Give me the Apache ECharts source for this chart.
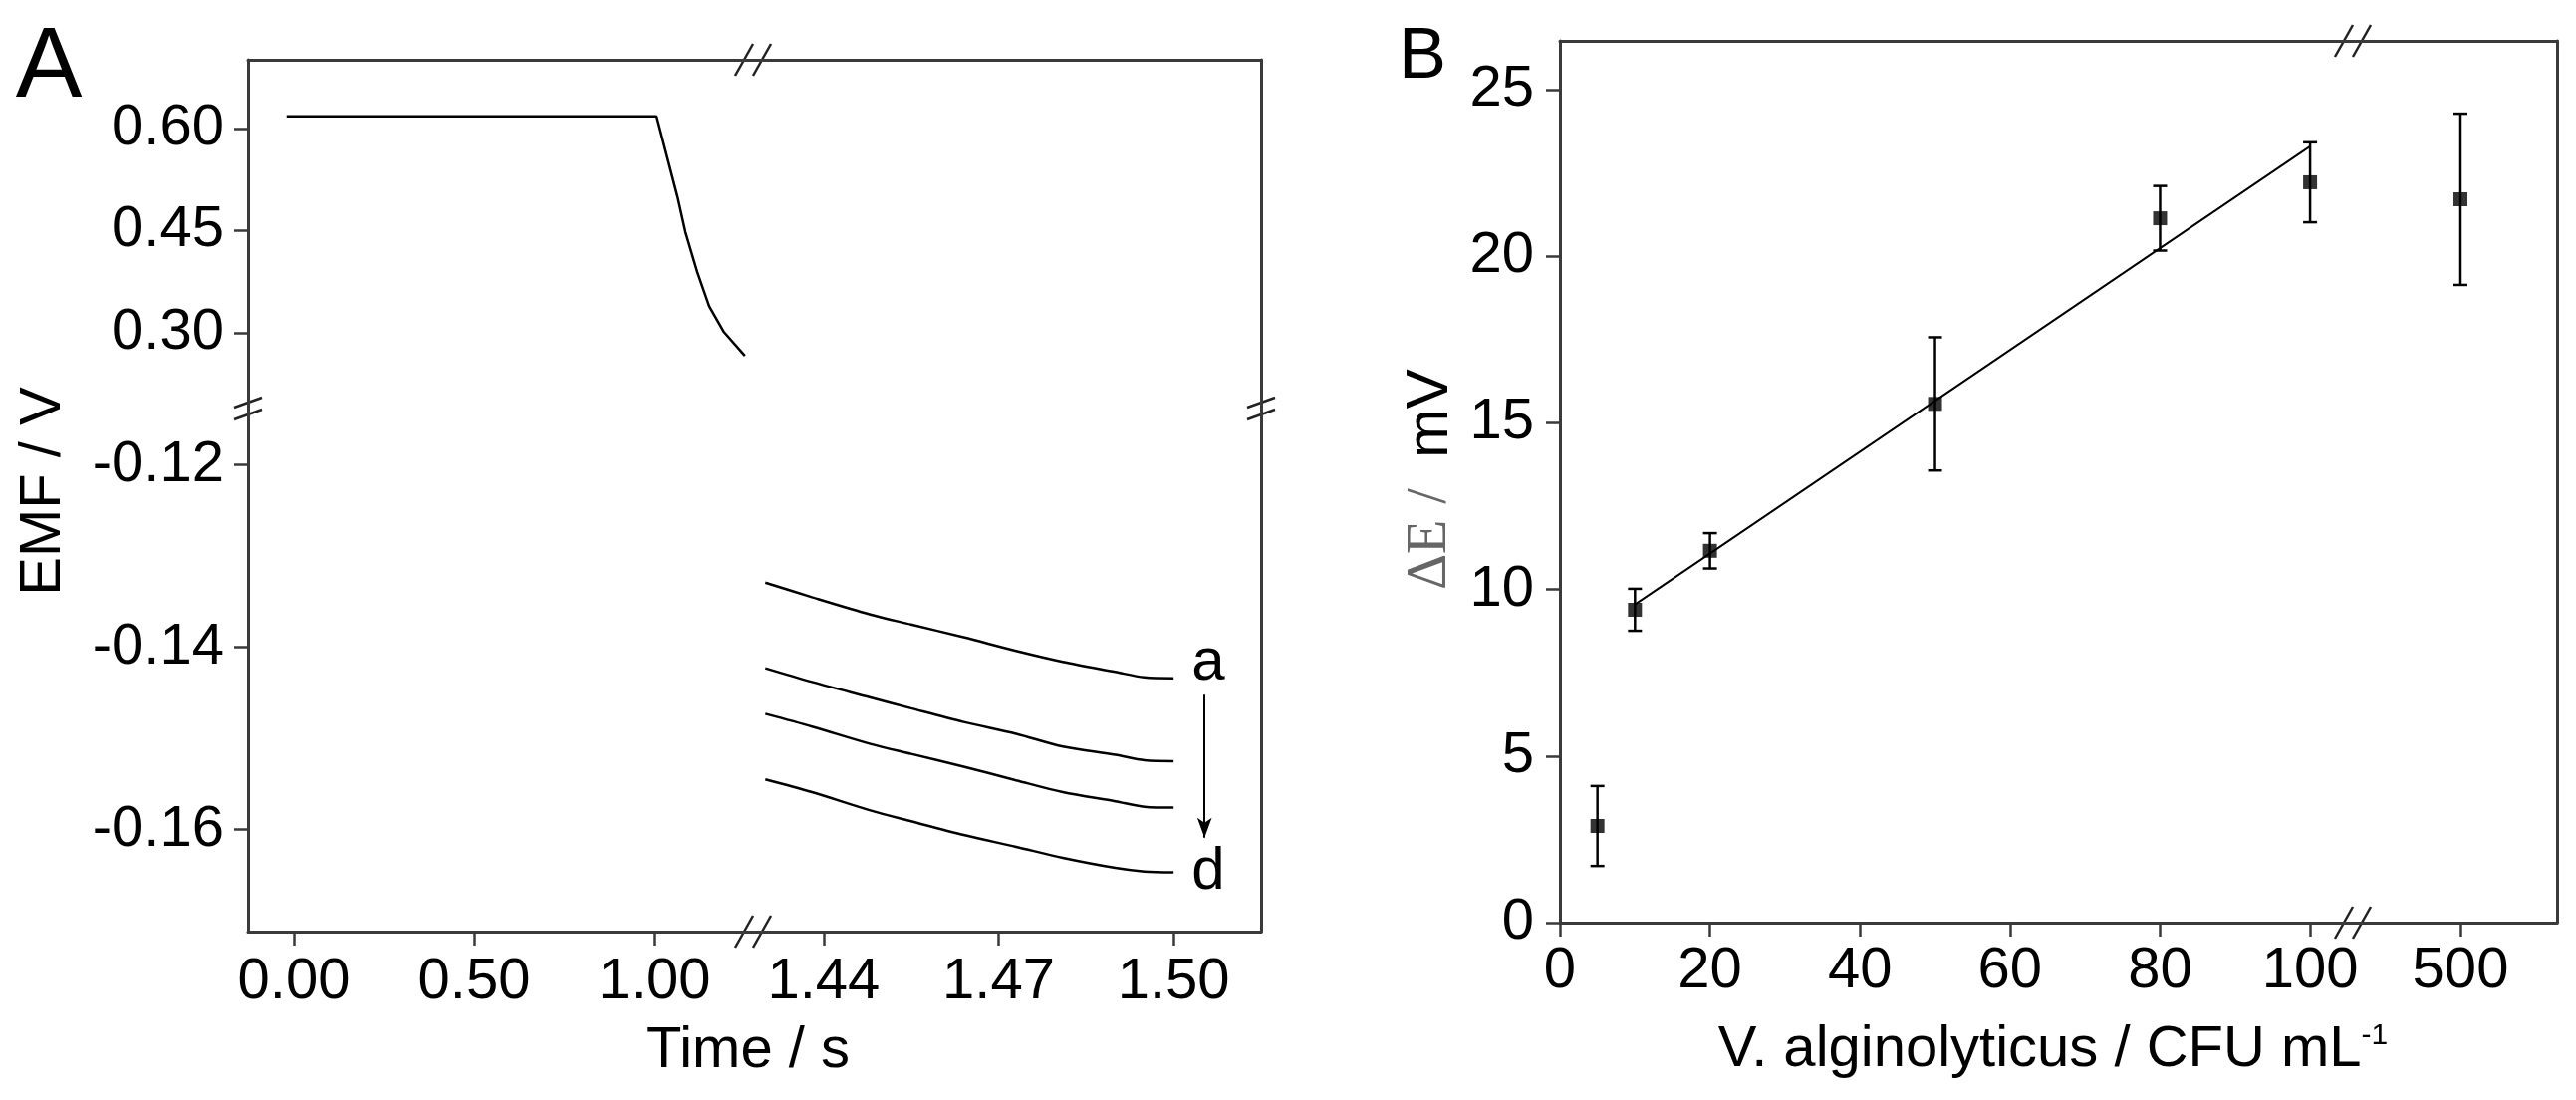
<!DOCTYPE html>
<html>
<head>
<meta charset="utf-8">
<title>EMF response and calibration</title>
<script src="https://cdn.jsdelivr.net/npm/echarts@6.0.0/dist/echarts.min.js"></script>
<style>
html, body { margin: 0; padding: 0; background: #fff; }
#chart { width: 2586px; height: 1104px; }
</style>
</head>
<body>
<div id="chart"></div>
<script>
// panel A, before the time break
const timeEarly = [-0.02, 1.006, 1.030, 1.064, 1.086, 1.119, 1.152, 1.193, 1.251];
const emfEarly = [0.618, 0.618, 0.569, 0.500, 0.448, 0.389, 0.339, 0.301, 0.266];

// panel A, after the time break: curves a..d
const timeLate = [1.430, 1.438, 1.448, 1.455, 1.464, 1.473, 1.481, 1.490, 1.495, 1.500];
const emfA = [-0.1329, -0.1345, -0.1364, -0.1375, -0.1389, -0.1404, -0.1416, -0.1427, -0.1433, -0.1434];
const emfB = [-0.1423, -0.1438, -0.1455, -0.1467, -0.1482, -0.1495, -0.1509, -0.1518, -0.1524, -0.1525];
const emfC = [-0.1473, -0.1487, -0.1506, -0.1517, -0.1531, -0.1546, -0.1559, -0.1569, -0.1575, -0.1576];
const emfD = [-0.1545, -0.1559, -0.1579, -0.1591, -0.1606, -0.1619, -0.1631, -0.1642, -0.1646, -0.1647];

const earlyTicks = [0, 0.5, 1.0];
const lateTicks = [1.44, 1.47, 1.50];
const upperTicks = [0.30, 0.45, 0.60];
const lowerTicks = [-0.16, -0.14, -0.12];

// panel B
const conc = [5, 10, 20, 50, 80, 100];
const deltaE = [2.9, 9.39, 11.16, 15.57, 21.14, 22.22];
const deltaErr = [1.2, 0.63, 0.53, 2.0, 0.97, 1.2];
const concHigh = [500];
const deltaHigh = [21.71];
const errHigh = [2.57];
const fitX = [10, 100];
const fitY = [9.55, 23.3];
const concTicks = [0, 20, 40, 60, 80, 100];
const highTicks = [500];
const deltaTicks = [0, 5, 10, 15, 20, 25];

// layout (px)
const A = { left: 249, brkX: 756, right: 1266, top: 60, brkY: 410, bottom: 935 };
const B = { left: 1566, brkX: 2362, right: 2567, top: 41, bottom: 926 };

const FONT = '"Liberation Sans Narrow", "Arial Narrow", "Liberation Sans", Arial, sans-serif';
const axisColor = '#3a3a3a';
const axisLineStyle = { color: axisColor, width: 3 };

function pairs(xs, ys) {
	return xs.map((x, i) => [x, ys[i]]);
}

function frameAxis(gridIndex, position, min, max) {
	return {
		type: 'value', gridIndex: gridIndex, position: position, min: min, max: max,
		axisLine: { show: true, onZero: false, lineStyle: axisLineStyle },
		axisTick: { show: false },
		axisLabel: { show: false },
		splitLine: { show: false }
	};
}

function tickAxis(gridIndex, position, min, max, ticks, digits, margin) {
	return {
		type: 'value', gridIndex: gridIndex, position: position, min: min, max: max,
		axisLine: { show: true, onZero: false, lineStyle: axisLineStyle },
		axisTick: { show: true, inside: false, length: 14, customValues: ticks, lineStyle: { color: axisColor, width: 2.5 } },
		axisLabel: {
			show: true, customValues: ticks, margin: margin,
			color: '#000', fontFamily: FONT, fontSize: 58,
			formatter: v => digits ? v.toFixed(digits) : String(v)
		},
		splitLine: { show: false }
	};
}

function renderErr(params, api) {
	const x = api.value(0);
	const top = api.coord([x, api.value(2)]);
	const bot = api.coord([x, api.value(1)]);
	const w = 7;
	const st = { stroke: '#000', lineWidth: 2.5 };
	return {
		type: 'group',
		children: [
			{ type: 'line', shape: { x1: top[0], y1: top[1], x2: bot[0], y2: bot[1] }, style: st },
			{ type: 'line', shape: { x1: top[0] - w, y1: top[1], x2: top[0] + w, y2: top[1] }, style: st },
			{ type: 'line', shape: { x1: bot[0] - w, y1: bot[1], x2: bot[0] + w, y2: bot[1] }, style: st }
		]
	};
}

function errData(xs, ys, es) {
	return xs.map((x, i) => [x, ys[i] - es[i], ys[i] + es[i]]);
}

// "//" marks on the axes
function hBreak(cx, cy) {
	return [-9, 9].map(dx => ({
		type: 'line', silent: true,
		shape: { x1: cx + dx - 9, y1: cy + 16, x2: cx + dx + 9, y2: cy - 16 },
		style: { stroke: '#222', lineWidth: 2.5 }
	}));
}
function vBreak(cx, cy) {
	return [-6, 6].map(dy => ({
		type: 'line', silent: true,
		shape: { x1: cx - 14, y1: cy + dy + 5, x2: cx + 14, y2: cy + dy - 5 },
		style: { stroke: '#222', lineWidth: 2.5 }
	}));
}

function text(x, y, str, size, extra) {
	return Object.assign({
		type: 'text', x: x, y: y, silent: true,
		style: { text: str, font: size + 'px ' + FONT, fill: '#000', align: 'center', verticalAlign: 'middle' }
	}, extra);
}

const lineStyle = { color: '#000', width: 2.5 };

const yLowMin = -0.1712, yLowMax = -0.1138;
const yUpMin = 0.1887, yUpMax = 0.701;
const xEarlyMin = -0.127, xEarlyMax = 1.2735;
const xLateMin = 1.4279, xLateMax = 1.515;
const dMax = 26.465;

let dom = document.getElementById('chart');
let myChart = echarts.init(dom);

let option = {
	animation: false,
	backgroundColor: '#fff',
	grid: [
		{ left: A.left, top: A.top, width: A.brkX - A.left, height: A.brkY - A.top },
		{ left: A.left, top: A.brkY, width: A.brkX - A.left, height: A.bottom - A.brkY },
		{ left: A.brkX, top: A.top, width: A.right - A.brkX, height: A.brkY - A.top },
		{ left: A.brkX, top: A.brkY, width: A.right - A.brkX, height: A.bottom - A.brkY },
		{ left: B.left, top: B.top, width: B.brkX - B.left, height: B.bottom - B.top },
		{ left: B.brkX, top: B.top, width: B.right - B.brkX, height: B.bottom - B.top }
	],
	xAxis: [
		frameAxis(0, 'top', xEarlyMin, xEarlyMax),
		tickAxis(1, 'bottom', xEarlyMin, xEarlyMax, earlyTicks, 2, 22),
		frameAxis(2, 'top', xLateMin, xLateMax),
		tickAxis(3, 'bottom', xLateMin, xLateMax, lateTicks, 2, 22),
		tickAxis(4, 'bottom', 0, 105.7, concTicks, 0, 20),
		frameAxis(4, 'top', 0, 105.7),
		tickAxis(5, 'bottom', 485.66, 512.88, highTicks, 0, 20),
		frameAxis(5, 'top', 485.66, 512.88)
	],
	yAxis: [
		tickAxis(0, 'left', yUpMin, yUpMax, upperTicks, 2, 24),
		tickAxis(1, 'left', yLowMin, yLowMax, lowerTicks, 2, 24),
		frameAxis(2, 'right', yUpMin, yUpMax),
		frameAxis(3, 'right', yLowMin, yLowMax),
		tickAxis(4, 'left', 0, dMax, deltaTicks, 0, 26),
		frameAxis(5, 'right', 0, dMax)
	],
	series: [
		{
			type: 'line', xAxisIndex: 0, yAxisIndex: 0, showSymbol: false,
			data: pairs(timeEarly, emfEarly), lineStyle: lineStyle
		},
		{
			type: 'line', xAxisIndex: 3, yAxisIndex: 3, showSymbol: false, smooth: 0.3,
			data: pairs(timeLate, emfA), lineStyle: lineStyle,
			endLabel: { show: true, formatter: 'a', distance: 18, offset: [0, -15], color: '#000', fontFamily: FONT, fontSize: 60 },
			markLine: {
				silent: true, symbol: ['none', 'arrow'], symbolSize: [11, 20],
				label: { show: false },
				lineStyle: { color: '#000', width: 2, type: 'solid' },
				data: [[{ coord: [1.5053, -0.1452] }, { coord: [1.5053, -0.1609] }]]
			}
		},
		{
			type: 'line', xAxisIndex: 3, yAxisIndex: 3, showSymbol: false, smooth: 0.3,
			data: pairs(timeLate, emfB), lineStyle: lineStyle
		},
		{
			type: 'line', xAxisIndex: 3, yAxisIndex: 3, showSymbol: false, smooth: 0.3,
			data: pairs(timeLate, emfC), lineStyle: lineStyle
		},
		{
			type: 'line', xAxisIndex: 3, yAxisIndex: 3, showSymbol: false, smooth: 0.3,
			data: pairs(timeLate, emfD), lineStyle: lineStyle,
			endLabel: { show: true, formatter: 'd', distance: 18, offset: [0, 0], color: '#000', fontFamily: FONT, fontSize: 60 }
		},
		{
			type: 'line', xAxisIndex: 4, yAxisIndex: 4, showSymbol: false, z: 1,
			data: pairs(fitX, fitY), lineStyle: { color: '#000', width: 2 }
		},
		{
			type: 'custom', xAxisIndex: 4, yAxisIndex: 4, z: 2,
			renderItem: renderErr, data: errData(conc, deltaE, deltaErr)
		},
		{
			type: 'custom', xAxisIndex: 6, yAxisIndex: 5, z: 2,
			renderItem: renderErr, data: errData(concHigh, deltaHigh, errHigh)
		},
		{
			type: 'scatter', xAxisIndex: 4, yAxisIndex: 4, z: 3,
			symbol: 'rect', symbolSize: 14, itemStyle: { color: '#000' },
			data: pairs(conc, deltaE)
		},
		{
			type: 'scatter', xAxisIndex: 6, yAxisIndex: 5, z: 3,
			symbol: 'rect', symbolSize: 14, itemStyle: { color: '#000' },
			data: pairs(concHigh, deltaHigh)
		}
	],
	graphic: [].concat(
		hBreak(A.brkX, A.top), hBreak(A.brkX, A.bottom),
		vBreak(A.left, A.brkY), vBreak(A.right, A.brkY),
		hBreak(B.brkX, B.top), hBreak(B.brkX, B.bottom),
		[
			text(49, 69, 'A', 100),
			text(1428, 58, 'B', 72),
			text(751, 1055, 'Time / s', 58),
			text(44, 493, 'EMF / V', 58, { rotation: Math.PI / 2 }),
			{
				type: 'text', x: 2061, y: 1054, silent: true,
				style: {
					text: '{t|V. alginolyticus / CFU mL}{s|-1}',
					align: 'center', verticalAlign: 'middle',
					rich: {
						t: { fontFamily: FONT, fontSize: 58, fill: '#000', verticalAlign: 'bottom' },
						s: { fontFamily: FONT, fontSize: 30, fill: '#000', verticalAlign: 'top' }
					}
				}
			},
			{
				type: 'text', x: 1436, y: 481, rotation: Math.PI / 2, silent: true,
				style: {
					text: '{d|ΔE}{sp| }{d|/}{gap| }{m|mV}',
					align: 'center', verticalAlign: 'middle',
					rich: {
						d: { fontFamily: '"Liberation Serif", "DejaVu Serif", serif', fontSize: 56, fill: '#666' },
						sp: { width: 16 },
						gap: { width: 30 },
						m: { fontFamily: FONT, fontSize: 60, fill: '#000' }
					}
				}
			}
		]
	)
};

if (option && typeof option === 'object') {
	myChart.setOption(option);
}
</script>
</body>
</html>
